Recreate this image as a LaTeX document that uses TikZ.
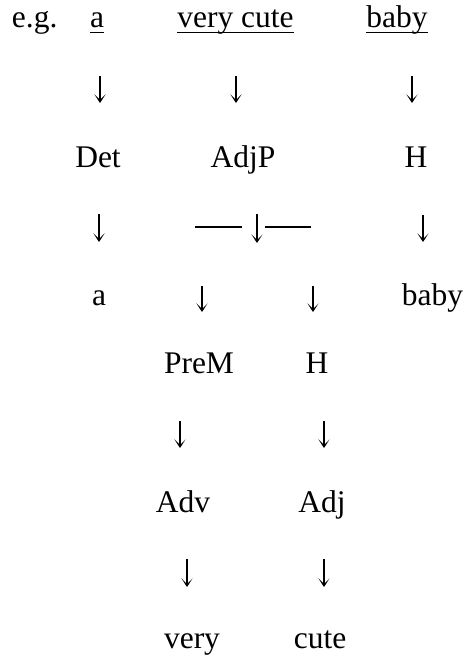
\documentclass[tikz,border=0pt]{standalone}
\usepackage{fontspec}
\setmainfont{Liberation Serif}
\usetikzlibrary{arrows.meta}

\tikzset{
  word/.style={inner sep=0pt, outer sep=0pt, anchor=base,
               font=\fontsize{31.5}{38}\selectfont},
  downarr/.style={line width=1.2pt,
                  -{Stealth[length=8.5pt,width=11pt,inset=5.5pt]}},
  bar/.style={line width=1.7pt},
  uline/.style={line width=1.2pt}
}

\begin{document}
\begin{tikzpicture}[x=1pt,y=-1pt]
  \useasboundingbox (0,0) rectangle (468,660);

  % top line: the example phrase
  \node[word, anchor=base west] (eg) at (12,28) {e.g.};
  \node[word] (wa)    at (97,28)    {a};
  \node[word] (wvc)   at (235.5,28) {very cute};
  \node[word] (wbaby) at (397,28)   {baby};
  \foreach \w in {wa,wvc,wbaby}
    \draw[uline] ([yshift=-4.7pt]\w.base west) -- ([yshift=-4.7pt]\w.base east);

  % functions
  \node[word] (det)  at (98,168)  {Det};
  \node[word] (adjp) at (243,168) {AdjP};
  \node[word] (h1)   at (416,168) {H};

  % fillers of Det and H
  \node[word] (fa)    at (99,305)    {a};
  \node[word] (fbaby) at (432.5,305) {baby};

  % inside the AdjP
  \node[word] (prem) at (199,373) {PreM};
  \node[word] (h2)   at (317,373) {H};
  \node[word] (adv)  at (183,512) {Adv};
  \node[word] (adj)  at (322,512) {Adj};
  \node[word] (fvery) at (192,648) {very};
  \node[word] (fcute) at (320,648) {cute};

  % arrow ends: name/x/top/bottom
  \foreach \n/\x/\ya/\yb in {
      r1/100/76/103, r2/236/76/103, r3/412/76/103,
      r4/99/214/242, r5/257/214/243, r6/423/215/242,
      r7/202/286/312, r8/313/286/312,
      r9/180/421/448, r10/324/421/448,
      r11/187/559/587, r12/324/559/587} {
    \coordinate (\n s) at (\x,\ya);
    \coordinate (\n e) at (\x,\yb);
  }
  \foreach \n in {r1,r2,r3,r4,r5,r6,r7,r8,r9,r10,r11,r12}
    \draw[downarr] (\n s) -- (\n e);

  % the bar that splits the AdjP
  \coordinate (bl1) at (195,227);
  \coordinate (bl2) at (242,227);
  \coordinate (br1) at (265,227);
  \coordinate (br2) at (311,227);
  \draw[bar] (bl1) -- (bl2);
  \draw[bar] (br1) -- (br2);
\end{tikzpicture}
\end{document}
